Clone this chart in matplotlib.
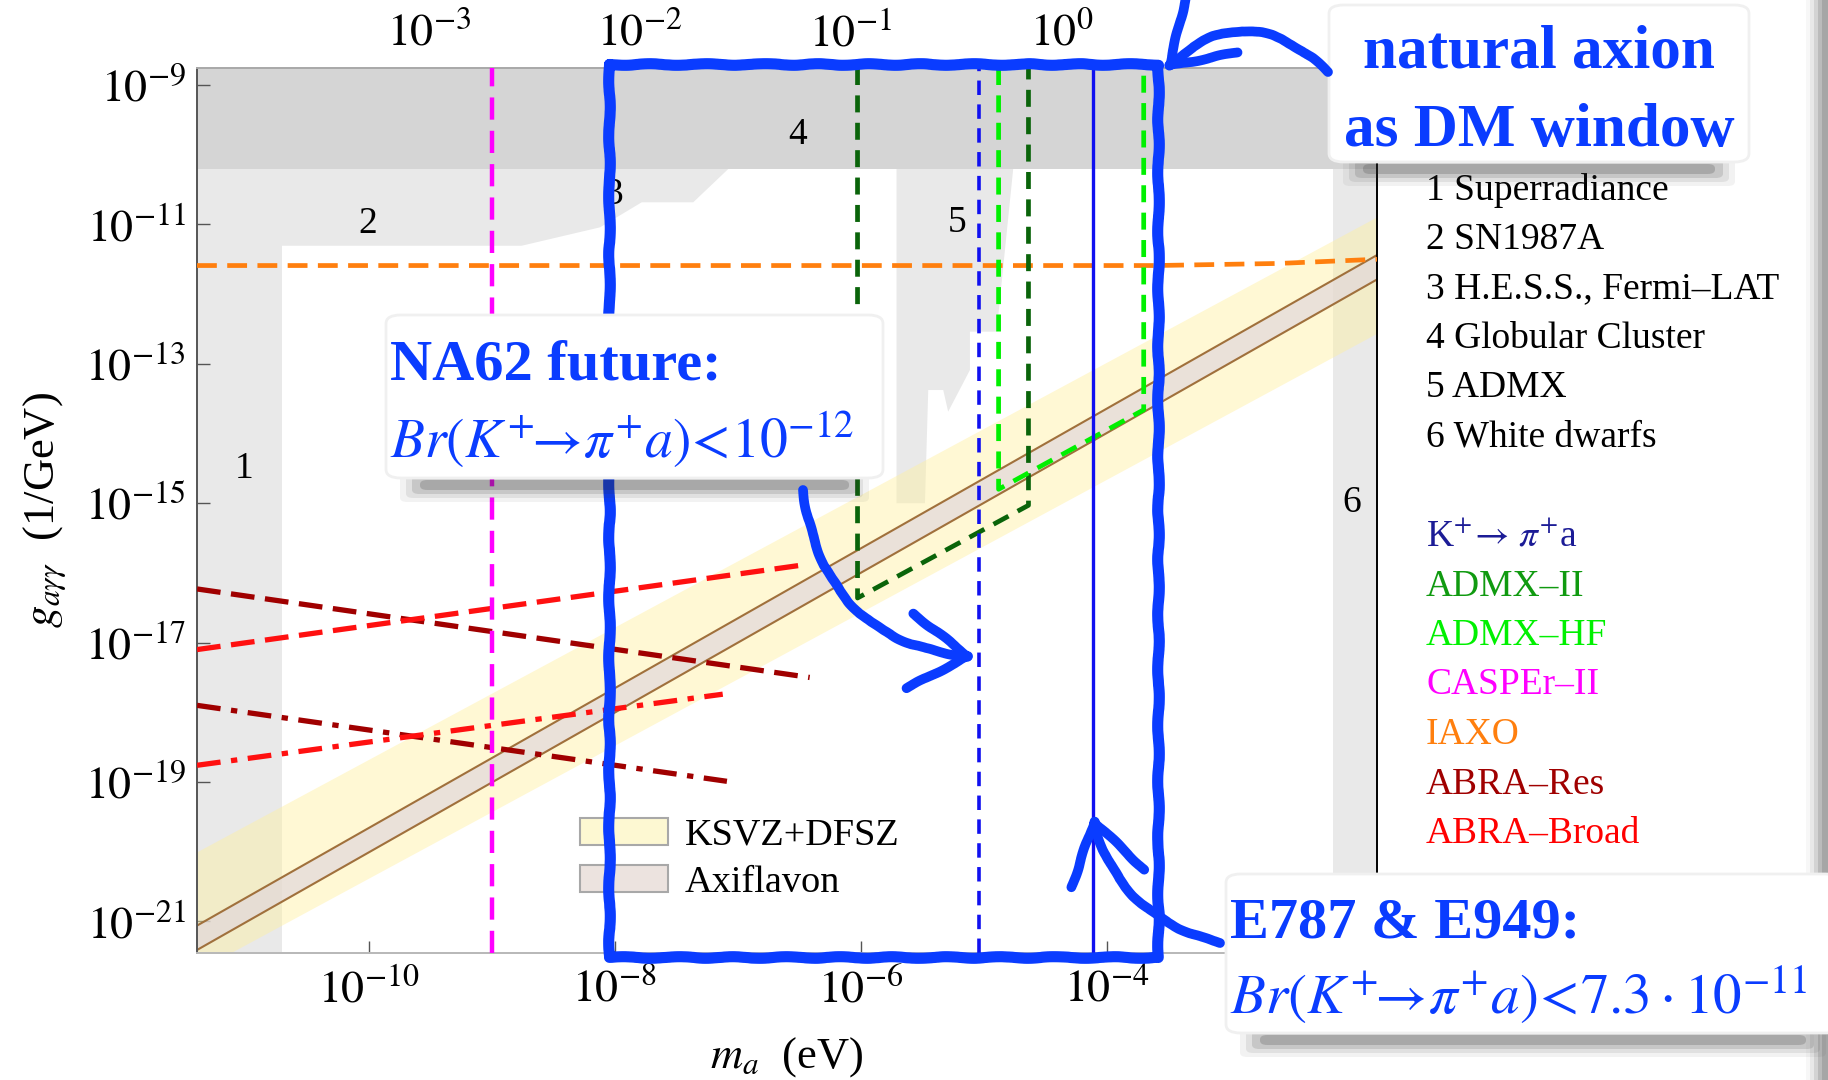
import numpy as np
import matplotlib
matplotlib.use('Agg')
import matplotlib.pyplot as plt
from matplotlib.patches import FancyBboxPatch, FancyArrowPatch, Patch, Rectangle
from matplotlib.lines import Line2D
from matplotlib.ticker import NullLocator, FuncFormatter

plt.rcParams['font.family'] = ['Liberation Serif', 'DejaVu Serif']
plt.rcParams['mathtext.fontset'] = 'stix'

# axion mass m_a (eV) and coupling g_agg (1/GeV) (log10 values)
m_range = 10**np.array([-11.397, -1.802])
g_range = 10**np.array([-21.446, -8.756])

# exclusion regions
gc_bound = 10**-10.2                         # 4 Globular Cluster
sr_m_max = 10**-10.706                       # 1 Superradiance
wd_m_min = 10**-2.161                        # 6 White dwarfs
sn_m = 10**np.array([-11.397, -8.757, -8.120, -7.781, -7.362, -7.077])     # 2 SN1987A + 3 HESS/Fermi
sn_g = 10**np.array([-11.306, -11.306, -11.042, -10.683, -10.683, -10.205])
admx_m = 10**np.array([-5.709, -5.709, -5.478, -5.451, -5.329, -5.289, -5.112, -5.112, -4.895, -4.760])
admx_g = 10**np.array([-10.2, -15.0, -15.0, -13.376, -13.376, -13.687, -13.089, -12.539, -12.539, -10.2])

# model bands
band_m = 10**np.array([-11.397, -1.802])
ksvz_hi = 10**np.array([-20.0, -10.89])
ksvz_lo = 10**np.array([-21.71, -12.56])
axfl_hi = 10**np.array([-21.06, -11.44])
axfl_lo = 10**np.array([-21.41, -11.79])

# future / current sensitivities
caspr_m = 10**-9.0
iaxo_m = 10**np.array([-11.397, -3.6, -2.6, -1.802])
iaxo_g = 10**np.array([-11.59, -11.59, -11.56, -11.50])
admx2_m = 10**np.array([-6.026, -6.026, -4.636, -4.636])
admx2_g = 10**np.array([-8.756, -16.36, -15.03, -8.756])
admxhf_m = 10**np.array([-4.879, -4.879, -3.699, -3.699])
admxhf_g = 10**np.array([-8.756, -14.80, -13.66, -8.756])
na62_m = 10**-5.035
e949_m = 10**-4.110
abra_res_m = 10**np.array([-11.397, -6.415])
abra_res_g = 10**np.array([-16.23, -17.50])
abra_res2_m = 10**np.array([-11.397, -7.088])
abra_res2_g = 10**np.array([-17.90, -18.99])
abra_br_m = 10**np.array([-11.397, -6.445])
abra_br_g = 10**np.array([-17.10, -15.88])
abra_br2_m = 10**np.array([-11.397, -7.122])
abra_br2_g = 10**np.array([-18.76, -17.74])

region_labels = ['1', '2', '3', '4', '5', '6']
region_m = 10**np.array([-11.01, -10.01, -8.01, -6.51, -5.22, -2.01])
region_g = 10**np.array([-14.50, -10.99, -10.57, -9.71, -10.98, -14.99])

y_ticks = 10.0**np.arange(-9, -22, -2)
x_ticks = 10.0**np.arange(-10, -3, 2)
top_ticks = 10.0**np.arange(-3, 1)

legend_names = ['1 Superradiance', '2 SN1987A', '3 H.E.S.S., Fermi\u2013LAT', '4 Globular Cluster',
                '5 ADMX', '6 White dwarfs']
exp_names = [r'K$^{+}\!\rightarrow\,\pi^{+}$a', 'ADMX\u2013II', 'ADMX\u2013HF', 'CASPEr\u2013II', 'IAXO',
             'ABRA\u2013Res', 'ABRA\u2013Broad']
exp_colors = ['#1c1c96', '#109a10', '#00f000', '#ff00ff', '#ff7f0e', '#a00000', '#ff0000']

W, H = 1828, 1080
fig = plt.figure(figsize=(W / 100, H / 100), dpi=100)
ax = fig.add_axes([197 / W, 1 - 952.5 / H, 1180 / W, 884.5 / H])
ax.set_xscale('log')
ax.set_yscale('log')
ax.set_xlim(m_range)
ax.set_ylim(g_range)

light = '#e9e9e9'
ax.fill(np.r_[sn_m, m_range[0]], np.r_[sn_g, gc_bound], color=light, lw=0, zorder=1)
ax.fill_between([m_range[0], sr_m_max], g_range[0], gc_bound, color=light, lw=0, zorder=1)
ax.fill_between([wd_m_min, m_range[1]], g_range[0], gc_bound, color=light, lw=0, zorder=1)
ax.fill(admx_m, admx_g, color=light, lw=0, zorder=1)
ax.fill_between(m_range, gc_bound, g_range[1], color='#d5d5d5', lw=0, zorder=1.5)

ax.fill_between(band_m, ksvz_lo, ksvz_hi, color='#fff0a0', alpha=0.45, lw=0, zorder=2)
ax.fill_between(band_m, axfl_lo, axfl_hi, color='#e0d6dc', alpha=0.65, lw=0, zorder=2.1)
ax.plot(band_m, axfl_hi, color='#a0703c', lw=1.5, zorder=2.2)
ax.plot(band_m, axfl_lo, color='#a0703c', lw=1.5, zorder=2.2)

ax.plot(abra_res_m, abra_res_g, color='#a00000', lw=3.8, dashes=(4.5, 2), zorder=3)
ax.plot(abra_res2_m, abra_res2_g, color='#a00000', lw=3.8, dashes=(4.5, 2, 1.2, 2), zorder=3)
ax.plot(abra_br_m, abra_br_g, color='#ff1010', lw=3.8, dashes=(4.5, 2), zorder=3)
ax.plot(abra_br2_m, abra_br2_g, color='#ff1010', lw=3.8, dashes=(4.5, 2, 1.2, 2), zorder=3)
ax.plot([caspr_m, caspr_m], g_range, color='#ff00ff', lw=3.2, dashes=(5, 2.5), zorder=3)
ax.plot(iaxo_m, iaxo_g, color='#ff7f0e', lw=3.4, dashes=(4.2, 2.2), zorder=3)
ax.plot(admx2_m, admx2_g, color='#0a640a', lw=3.4, dashes=(3.6, 2.2), zorder=3)
ax.plot(admxhf_m, admxhf_g, color='#00f000', lw=3.4, dashes=(3.6, 2.2), zorder=3)
ax.plot([na62_m, na62_m], g_range, color='#1010f0', lw=2.6, dashes=(4, 2.6), zorder=3)
ax.plot([e949_m, e949_m], g_range, color='#1010f0', lw=2.4, zorder=3)

for lab, m, g in zip(region_labels, region_m, region_g):
    ax.text(m, g, lab, fontsize=27, ha='center', va='center', zorder=4)

ax.set_yticks(y_ticks)
ax.set_xticks(x_ticks)
ax.yaxis.set_minor_locator(NullLocator())
ax.xaxis.set_minor_locator(NullLocator())
fmt = FuncFormatter(lambda v, p: r'$10^{%d}$' % int(round(np.log10(v))))
ax.yaxis.set_major_formatter(fmt)
ax.xaxis.set_major_formatter(fmt)
ax.tick_params(direction='in', length=9, width=1, color='#555555', labelsize=33)
ax.tick_params(axis='x', pad=12)
ax.tick_params(axis='y', pad=8)

top = ax.secondary_xaxis('top', functions=(lambda m: 10**(-3 + (np.log10(m) + 9.507) / 1.714),
                                           lambda t: 10**((np.log10(t) + 3) * 1.714 - 9.507)))
top.set_xticks(top_ticks)
top.xaxis.set_minor_locator(NullLocator())
top.xaxis.set_major_formatter(fmt)
top.tick_params(direction='in', length=9, width=1, color='#555555', labelsize=33, pad=9)
top.spines['top'].set_visible(False)

for side, col in [('left', '#555555'), ('right', 'black'), ('top', '#a8a8a8'), ('bottom', '#b8b8b8')]:
    ax.spines[side].set_color(col)
    ax.spines[side].set_linewidth(1.4)

ax.set_xlabel(r'$m_a$  (eV)', fontsize=32, labelpad=16)
ax.set_ylabel(r'$g_{a\gamma\gamma}$  (1/GeV)', fontsize=32, labelpad=12)

handles = [Patch(facecolor='#fdf8d2', edgecolor='#a8a8a8', lw=1.5, label='KSVZ+DFSZ'),
           Patch(facecolor='#ece3df', edgecolor='#a8a8a8', lw=1.5, label='Axiflavon')]
ax.legend(handles=handles, loc='upper left', bbox_to_anchor=(580 / W, 1 - 818 / H),
          bbox_transform=fig.transFigure, frameon=False, fontsize=27.5, handlelength=2.3,
          handleheight=0.7, labelspacing=0.33, handletextpad=0.45, borderpad=0, borderaxespad=0)

# legend text to the right of the plot
for i, name in enumerate(legend_names):
    fig.text(1426 / W, 1 - (199.7 + 49.3 * i) / H, name, fontsize=27, va='baseline')
for i, (name, col) in enumerate(zip(exp_names, exp_colors)):
    fig.text(1426 / W, 1 - (546 + 49.5 * i) / H, name, fontsize=27, va='baseline', color=col)


def fx(x):
    return x / W


def fy(y):
    return 1 - y / H


# page edge shade on the right
for k, a in enumerate([0.06, 0.12, 0.2, 0.28, 0.34]):
    fig.add_artist(Rectangle((fx(1806 + 4 * k), 0), fx(22 - 4 * k), 1, color='#808080', alpha=a, lw=0, zorder=5))

blue = '#0a3cff'


def note_box(x0, y0, x1, y1):
    for dx, dy, hh, a in [(14, -10, 34, 0.06), (20, -6, 26, 0.09), (26, -2, 18, 0.14), (34, 2, 10, 0.2)]:
        fig.add_artist(FancyBboxPatch((fx(x0 + dx), fy(y1 + dy + hh)), fx(x1 - x0 - 2 * dx), hh / H,
                                      boxstyle='round,pad=0,rounding_size=0.004', color='#303030',
                                      alpha=a, lw=0, zorder=8))
    fig.add_artist(FancyBboxPatch((fx(x0), fy(y1)), fx(x1 - x0), (y1 - y0) / H,
                                  boxstyle='round,pad=0,rounding_size=0.008', facecolor='white',
                                  edgecolor='#f0f0f0', lw=2, zorder=9))


# hand drawn window around the natural axion range
xs = [609, 1158, 1158, 609, 609]
ys = [64, 64, 957, 957, 64]
hand = Line2D([fx(x) for x in xs], [fy(y) for y in ys], transform=fig.transFigure, color=blue, lw=8,
              solid_joinstyle='round', solid_capstyle='round', zorder=7)
hand.set_sketch_params(scale=0.8, length=60, randomness=2)
fig.add_artist(hand)

note_box(1329, 5, 1749, 162)
note_box(386, 315, 883, 478)
note_box(1226, 874, 1840, 1033)

tkw = dict(color=blue, zorder=10, va='baseline')
fig.text(fx(1539), fy(67), 'natural axion', fontsize=44, fontweight='bold', ha='center', **tkw)
fig.text(fx(1539), fy(146), 'as DM window', fontsize=44, fontweight='bold', ha='center', **tkw)
fig.text(fx(390), fy(380), 'NA62 future:', fontsize=42, fontweight='bold', ha='left', **tkw)
fig.text(fx(390), fy(458), r'$Br(K^{+}\!\!\rightarrow\!\pi^{+}a)\!<\!\mathit{10}^{-\mathit{12}}$',
         fontsize=40, ha='left', **tkw)
fig.text(fx(1230), fy(938), 'E787 & E949:', fontsize=42, fontweight='bold', ha='left', **tkw)
fig.text(fx(1230), fy(1014), r'$Br(K^{+}\!\!\rightarrow\!\pi^{+}a)\!<\!\mathit{7.3}\cdot\mathit{10}^{-\mathit{11}}$',
         fontsize=41, ha='left', **tkw)

arrows = [((1328, 72), (1163, 72), 0.48), ((803, 490), (977, 657), 0.4), ((1220, 943), (1092, 813), -0.3)]
for (xa, ya), (xb, yb), rad in arrows:
    arr = FancyArrowPatch((fx(xa), fy(ya)), (fx(xb), fy(yb)), transform=fig.transFigure,
                          connectionstyle='arc3,rad=%s' % rad, arrowstyle='->,head_length=0.7,head_width=0.45',
                          mutation_scale=60, lw=7, color=blue, shrinkA=0, shrinkB=0,
                          joinstyle='round', capstyle='round', zorder=11)
    arr.set_sketch_params(scale=0.8, length=60, randomness=2)
    fig.add_artist(arr)

fig.savefig('out.png', dpi=100)
